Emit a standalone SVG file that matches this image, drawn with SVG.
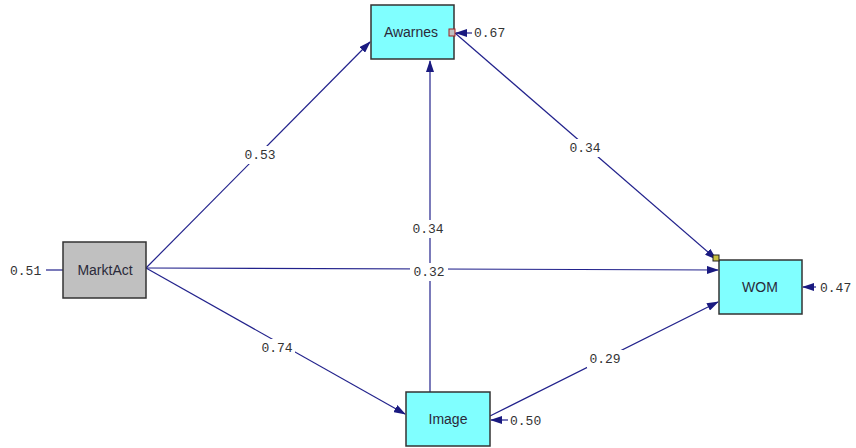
<svg xmlns="http://www.w3.org/2000/svg" width="856" height="448" viewBox="0 0 856 448">
<style>
.box{stroke:#333;stroke-width:1.5}
.endo{fill:#80ffff}
.exo{fill:#c0c0c0}
.nt{font-family:"Liberation Sans",Arial,sans-serif;font-size:14px;fill:#2a2a3a;text-anchor:middle}
.lab{font-family:"Liberation Mono","Courier New",monospace;font-size:13px;fill:#333;text-anchor:middle}
.bg{fill:#fff}
.el{font-family:"Liberation Mono","Courier New",monospace;font-size:13px;fill:#333}
.c{stroke:#22228c;stroke-width:1.2;fill:none}
</style>
<defs>
<marker id="ah" markerWidth="12" markerHeight="8" refX="11" refY="4" orient="auto" markerUnits="userSpaceOnUse">
<path d="M0,0 L12,4 L0,8 Z" fill="#1a1a80"/>
</marker>
</defs>
<rect width="856" height="448" fill="#fff"/>
<g id="connectors">
<line class="c" x1="146" y1="268" x2="370" y2="42" marker-end="url(#ah)"/>
<line class="c" x1="146" y1="268" x2="718" y2="270" marker-end="url(#ah)"/>
<line class="c" x1="146" y1="268" x2="405" y2="414" marker-end="url(#ah)"/>
<line class="c" x1="430" y1="392" x2="430" y2="61" marker-end="url(#ah)"/>
<line class="c" x1="455" y1="33" x2="716" y2="259" marker-end="url(#ah)"/>
<line class="c" x1="490" y1="416" x2="718" y2="302" marker-end="url(#ah)"/>
<line class="c" x1="46" y1="270" x2="63" y2="270"/>
<line class="c" x1="472" y1="33" x2="456" y2="33" marker-end="url(#ah)"/>
<line class="c" x1="816" y1="287" x2="803" y2="287" marker-end="url(#ah)"/>
<line class="c" x1="508" y1="420" x2="491" y2="420" marker-end="url(#ah)"/>
<rect class="bg" x="242" y="146" width="36" height="18"/>
<rect class="bg" x="410" y="263" width="38" height="18"/>
<rect class="bg" x="259" y="339" width="36" height="18"/>
<rect class="bg" x="410" y="220" width="36" height="18"/>
<rect class="bg" x="567" y="139" width="36" height="18"/>
<rect class="bg" x="587" y="350" width="36" height="18"/>
<text class="lab" x="260" y="159">0.53</text>
<text class="lab" x="429" y="276">0.32</text>
<text class="lab" x="277" y="352">0.74</text>
<text class="lab" x="428" y="233">0.34</text>
<text class="lab" x="585" y="152">0.34</text>
<text class="lab" x="605" y="363">0.29</text>
</g>
<g id="Awarnes">
<rect class="box endo" x="371" y="5" width="83" height="54"/>
<text class="nt" x="411" y="37">Awarnes</text>
<rect x="449" y="29" width="6" height="7" fill="#c0c0c0" stroke="#a02020" stroke-width="1"/>
<text class="el" x="474" y="37">0.67</text>
</g>
<g id="MarktAct">
<rect class="box exo" x="63" y="242" width="83" height="56"/>
<text class="nt" x="105" y="275">MarktAct</text>
<text class="el" x="10" y="275">0.51</text>
</g>
<g id="WOM">
<rect class="box endo" x="719" y="260" width="83" height="54"/>
<text class="nt" x="760" y="292">WOM</text>
<rect x="713" y="255" width="6" height="6" fill="#c8c040" stroke="#222" stroke-width="1"/>
<text class="el" x="820" y="292">0.47</text>
</g>
<g id="Image">
<rect class="box endo" x="406" y="392" width="84" height="54"/>
<text class="nt" x="448" y="424">Image</text>
<text class="el" x="510" y="425">0.50</text>
</g>
</svg>
